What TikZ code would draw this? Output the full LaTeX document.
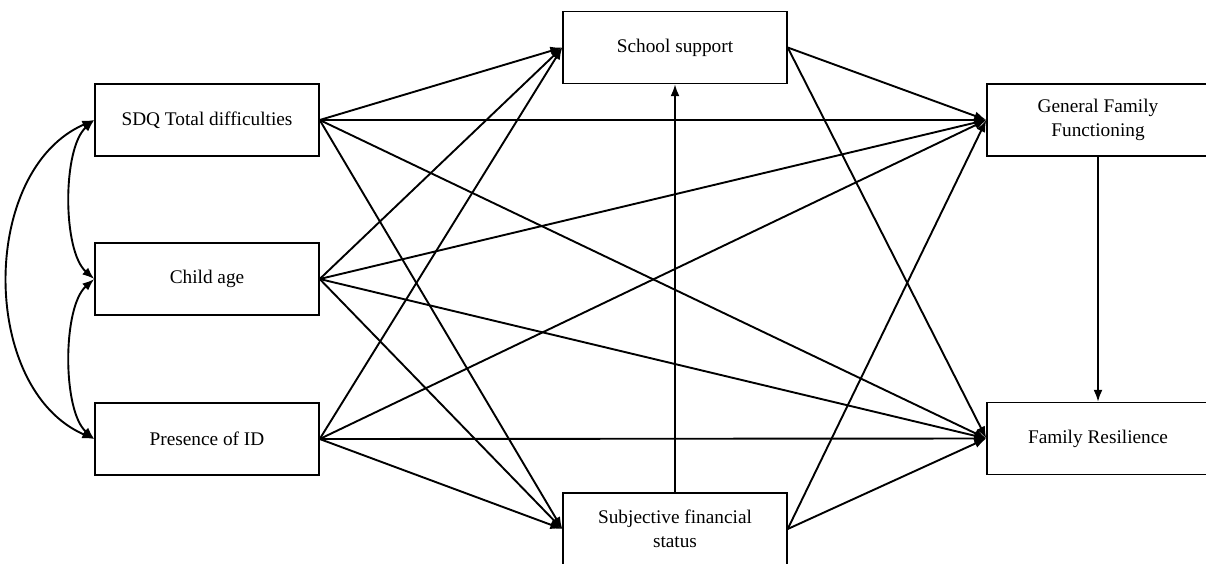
\documentclass[tikz,border=0pt]{standalone}
\usepackage{fontspec}
\setmainfont{Liberation Serif}
\usetikzlibrary{arrows.meta}
\begin{document}
\begin{tikzpicture}[x=1pt,y=-1pt,
  box/.style={draw, line width=1.4pt, rectangle, minimum width=224pt, minimum height=72pt,
    inner sep=0pt, align=center, font=\fontsize{19.3}{24}\selectfont},
  tip/.tip={Latex[length=12pt,width=9pt]},
  arr/.style={line width=1.9pt, -tip},
  darr/.style={line width=1.9pt, tip-tip}]
\useasboundingbox (0,0) rectangle (1206,563);
\node[box] (sdq) at (207,120) {SDQ Total difficulties};
\node[box] (age) at (207,279) {Child age};
\node[box] (pid) at (207,439) {Presence of ID};
\node[box] (ss) at (675,47.5) {School support};
\node[box] (sfs) at (675,529) {Subjective financial\\status};
\node[box, minimum width=222pt] (gff) at (1098,120) {General Family\\Functioning};
\node[box, minimum width=222pt] (fr) at (1098,438.5) {Family Resilience};
% left correlations
\draw[darr] (sdq.west) .. controls +(-32,28) and +(-32,-28) .. (age.west);
\draw[darr] (age.west) .. controls +(-32,28) and +(-32,-28) .. (pid.west);
\draw[darr] (sdq.west) .. controls +(-115,50) and +(-115,-50) .. (pid.west);
% predictors
\foreach \s in {sdq,age,pid}{
  \draw[arr] (\s.east) -- (ss.west);
  \draw[arr] (\s.east) -- (sfs.west);
  \draw[arr] (\s.east) -- (gff.west);
  \draw[arr] (\s.east) -- (fr.west);
}
\foreach \m in {ss,sfs}{
  \draw[arr] (\m.east) -- (gff.west);
  \draw[arr] (\m.east) -- (fr.west);
}
\draw[arr] (sfs.north) -- (ss.south);
\draw[arr] (gff.south) -- (fr.north);
\end{tikzpicture}
\end{document}
